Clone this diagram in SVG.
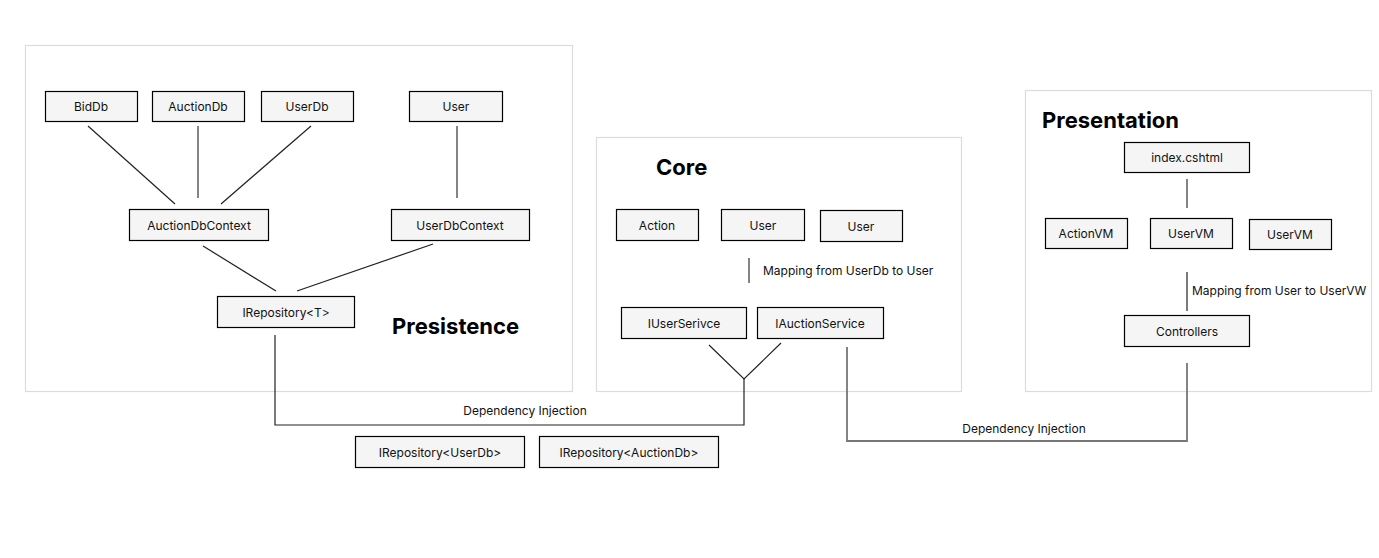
<svg xmlns="http://www.w3.org/2000/svg" width="1379" height="558" viewBox="0 0 1379 558">
<style>
.panel{fill:#fff;stroke:#dcdcdc;stroke-width:1.2}
.node rect{fill:#f5f5f5;stroke:#000;stroke-width:1.2}
.node text{font-family:Inter,"Liberation Sans",sans-serif;font-size:12px;fill:#111;text-anchor:middle}
.title{font-family:Inter,"Liberation Sans",sans-serif;font-size:22px;font-weight:bold;fill:#000}
.lbl{font-family:Inter,"Liberation Sans",sans-serif;font-size:12px;fill:#111}
.k{stroke:#222;stroke-width:1.2;fill:none}
.g{stroke:#777;stroke-width:1.8;fill:none}
</style>
<rect width="1379" height="558" fill="#fff"/>
<g id="panels">
<rect class="panel" x="25.5" y="45.5" width="547" height="346"/>
<rect class="panel" x="596.5" y="137.5" width="365" height="254"/>
<rect class="panel" x="1025.5" y="90.5" width="346" height="301"/>
<text class="title" x="392" y="334">Presistence</text>
<text class="title" x="656" y="175">Core</text>
<text class="title" x="1042" y="128">Presentation</text>
</g>
<g id="connectors">
<line class="k" x1="88" y1="126" x2="175" y2="204"/>
<line class="g" x1="198" y1="126" x2="198" y2="198"/>
<line class="k" x1="311" y1="126" x2="221" y2="204"/>
<line class="g" x1="457" y1="126" x2="457" y2="198"/>
<line class="k" x1="203" y1="246" x2="276" y2="291"/>
<line class="k" x1="433" y1="244" x2="297" y2="291"/>
<polyline class="k" points="275,335 275,425 744,425 744,379"/>
<polyline class="k" points="709,345 744,379 781,343"/>
<polyline class="g" points="847,347 847,441 1187,441 1187,363"/>
<line class="g" x1="749" y1="258" x2="749" y2="283"/>
<line class="g" x1="1187" y1="179" x2="1187" y2="208"/>
<line class="k" x1="1187" y1="272" x2="1187" y2="311"/>
<text class="lbl" x="525" y="415" text-anchor="middle">Dependency Injection</text>
<text class="lbl" x="1024" y="433" text-anchor="middle">Dependency Injection</text>
<text class="lbl" x="763" y="275">Mapping from UserDb to User</text>
<text class="lbl" x="1192" y="295">Mapping from User to UserVW</text>
</g>
<g id="BidDb" class="node"><rect x="45.5" y="91.5" width="92" height="30"/><text x="91" y="111">BidDb</text></g>
<g id="AuctionDb" class="node"><rect x="152.5" y="91.5" width="92" height="30"/><text x="198" y="111">AuctionDb</text></g>
<g id="UserDb" class="node"><rect x="261.5" y="91.5" width="92" height="30"/><text x="307" y="111">UserDb</text></g>
<g id="UserP" class="node"><rect x="409.5" y="91.5" width="93" height="30"/><text x="456" y="111">User</text></g>
<g id="AuctionDbContext" class="node"><rect x="129.5" y="209.5" width="139" height="31"/><text x="199" y="230">AuctionDbContext</text></g>
<g id="UserDbContext" class="node"><rect x="391.5" y="209.5" width="138" height="31"/><text x="460" y="230">UserDbContext</text></g>
<g id="IRepositoryT" class="node"><rect x="217.5" y="296.5" width="137" height="31"/><text x="286" y="317">IRepository&lt;T&gt;</text></g>
<g id="Action" class="node"><rect x="616.5" y="209.5" width="82" height="31"/><text x="657" y="230">Action</text></g>
<g id="UserC1" class="node"><rect x="721.5" y="209.5" width="83" height="31"/><text x="763" y="230">User</text></g>
<g id="UserC2" class="node"><rect x="820.5" y="210.5" width="82" height="31"/><text x="861" y="231">User</text></g>
<g id="IUserSerivce" class="node"><rect x="621.5" y="307.5" width="125" height="31"/><text x="684" y="328">IUserSerivce</text></g>
<g id="IAuctionService" class="node"><rect x="757.5" y="307.5" width="126" height="31"/><text x="820" y="328">IAuctionService</text></g>
<g id="IRepositoryUserDb" class="node"><rect x="355.5" y="436.5" width="169" height="31"/><text x="440" y="457">IRepository&lt;UserDb&gt;</text></g>
<g id="IRepositoryAuctionDb" class="node"><rect x="539.5" y="436.5" width="179" height="31"/><text x="629" y="457">IRepository&lt;AuctionDb&gt;</text></g>
<g id="index" class="node"><rect x="1124.5" y="142.5" width="125" height="30"/><text x="1187" y="162">index.cshtml</text></g>
<g id="ActionVM" class="node"><rect x="1045.5" y="218.5" width="82" height="30"/><text x="1086" y="238">ActionVM</text></g>
<g id="UserVM1" class="node"><rect x="1150.5" y="218.5" width="82" height="30"/><text x="1191" y="238">UserVM</text></g>
<g id="UserVM2" class="node"><rect x="1249.5" y="219.5" width="82" height="30"/><text x="1290" y="239">UserVM</text></g>
<g id="Controllers" class="node"><rect x="1124.5" y="315.5" width="125" height="31"/><text x="1187" y="336">Controllers</text></g>
</svg>
